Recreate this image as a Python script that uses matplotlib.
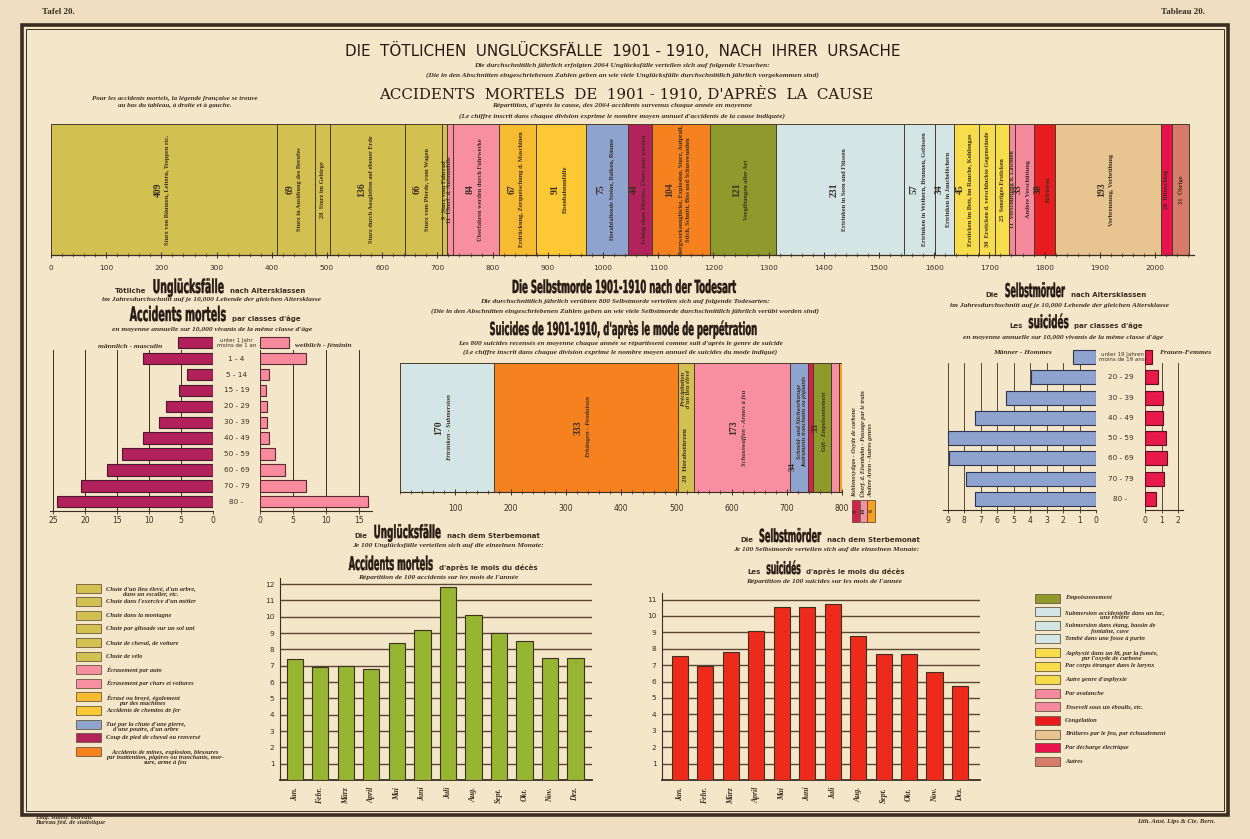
import matplotlib
matplotlib.use('Agg')
import matplotlib.pyplot as plt
from matplotlib.patches import Rectangle, PathPatch
from matplotlib.transforms import offset_copy, Affine2D
from matplotlib.textpath import TextPath
from matplotlib.font_manager import FontProperties
from matplotlib.ticker import MultipleLocator
import numpy as np

# ---------------- data ----------------
cause_values = [409, 69, 28, 136, 66, 9, 11, 84, 67, 91, 75, 44, 104,
                121, 231, 57, 34, 45, 30, 25, 11, 33, 38, 193, 20, 31]
cause_labels = [
    "Sturz von Bäumen, Leitern, Treppen etc.",
    "Sturz in Ausübung des Berufes",
    "Sturz im Gebirge",
    "Sturz durch Ausgleiten auf ebener Erde",
    "Sturz vom Pferde, vom Wagen",
    "Sturz vom Fahrrad",
    "Überf. d. Automobile",
    "Überfahren werden durch Fuhrwerke",
    "Erdrückung, Zerquetschung d. Maschinen",
    "Eisenbahnunfälle",
    "Herabfallende Steine, Balken, Bäume",
    "Schlag eines Pferdes, Überrannt werden",
    "Bergwerksunglücke, Explosion, Sturz, Aufprall,\nStich, Schnitt, Biss und Schusswunden",
    "Vergiftungen aller Art",
    "Ertrinken in Seen und Flüssen",
    "Ertrinken in Weihern, Brunnen, Gefässen",
    "Ertrinken in Jauchelöchern",
    "Ersticken im Bett, im Rauche, Kohlengas",
    "Ersticken d. verschluckte Gegenstände",
    "Sonstiges Ersticken",
    "Verschüttung d. Lawinen",
    "Andere Verschüttung",
    "Erfrieren",
    "Verbrennung, Verbrühung",
    "Blitzschlag",
    "Übrige",
]
FALL, PINK, MACH, RAIL, BLUE, CRIM, ORNG = '#d2c050', '#f78ea2', '#f6bb30', '#fcc934', '#8fa3cf', '#b3235b', '#f5821f'
POIS, LBLU, YELL, AVAL, RED, TAN, ELEC, OTHR = '#8e9a2c', '#d3e5e4', '#f7dd4c', '#f58a9e', '#e81c1f', '#e8c590', '#e8124c', '#d77a68'
cause_colors = [FALL, FALL, FALL, FALL, FALL, FALL, PINK, PINK, MACH, RAIL, BLUE, CRIM, ORNG,
                POIS, LBLU, LBLU, LBLU, YELL, YELL, YELL, AVAL, AVAL, RED, TAN, ELEC, OTHR]
cause_legend_fr = [
    "Chute d'un lieu élevé, d'un arbre,\ndans un escalier, etc.",
    "Chute dans l'exercice d'un métier",
    "Chute dans la montagne",
    "Chute par glissade sur un sol uni",
    "Chute de cheval, de voiture",
    "Chute de vélo",
    "Écrasement par auto",
    "Écrasement par chars et voitures",
    "Écrasé ou broyé, également\npar des machines",
    "Accidents de chemins de fer",
    "Tué par la chute d'une pierre,\nd'une poutre, d'un arbre",
    "Coup de pied de cheval ou renversé",
    "Accidents de mines, explosion, blessures\npar inattention, piqûres ou tranchants, mor-\nsure, arme à feu",
    "Empoisonnement",
    "Submersion accidentelle dans un lac,\nune rivière",
    "Submersion dans étang, bassin de\nfontaine, cuve",
    "Tombé dans une fosse à purin",
    "Asphyxié dans un lit, par la fumée,\npar l'oxyde de carbone",
    "Par corps étranger dans le larynx",
    "Autre genre d'asphyxie",
    "Par avalanche",
    "Enseveli sous un éboulis, etc.",
    "Congélation",
    "Brûlures par le feu, par échaudement",
    "Par décharge électrique",
    "Autres",
]

age_acc = ["unter 1 Jahr\nmoins de 1 an", "1 - 4", "5 - 14", "15 - 19", "20 - 29", "30 - 39",
           "40 - 49", "50 - 59", "60 - 69", "70 - 79", "80 -"]
acc_male = [5.4, 11.0, 4.1, 5.3, 7.3, 8.4, 11.0, 14.2, 16.6, 20.7, 24.4]
acc_female = [4.4, 6.9, 1.4, 0.9, 1.0, 1.1, 1.4, 2.3, 3.8, 7.0, 16.4]

suicide_values = [170, 333, 29, 173, 34, 8, 33, 14, 6]
suicide_labels = ["Ertränken - Submersion", "Erhängen - Pendaison", "Herabstürzen",
                  "Schusswaffen - Armes à feu",
                  "Schneid- und Stichwerkzeuge\nInstruments tranchants ou piquants",
                  "Kohlenoxydgas - Oxyde de carbone", "Gift - Empoisonnement",
                  "Überf. d. Eisenbahn - Passage par le train", "Andere Arten - Autres genres"]
suicide_colors = [LBLU, ORNG, FALL, PINK, BLUE, '#d8204c', POIS, PINK, '#f5a020']

age_sui = ["unter 19 Jahren\nmoins de 19 ans", "20 - 29", "30 - 39", "40 - 49", "50 - 59",
           "60 - 69", "70 - 79", "80 -"]
sui_male = [1.4, 3.95, 5.45, 7.33, 9.0, 8.9, 7.9, 7.33]
sui_female = [0.42, 0.8, 1.07, 1.07, 1.25, 1.33, 1.15, 0.67]

months = ["Jan.", "Febr.", "März", "April", "Mai", "Juni", "Juli", "Aug.", "Sept.", "Okt.", "Nov.", "Dez."]
acc_month = [7.4, 6.9, 7.0, 6.8, 8.4, 9.2, 11.8, 10.1, 9.0, 8.5, 7.45, 7.5]
sui_month = [7.55, 6.98, 7.78, 9.08, 10.57, 10.57, 10.75, 8.78, 7.7, 7.7, 6.6, 5.74]

# ---------------- styles ----------------
PAPER = '#f4e6c9'
INK = '#3a2e22'
HEAD = '#241a12'
EDGE = '#4a3c2a'
W, H = 1250, 839
SANSB = dict(family='DejaVu Sans', fontweight='bold', color=INK)
ITAL = dict(family='Liberation Serif', style='italic', fontweight='bold', color=INK)
SERB = dict(family='Liberation Serif', fontweight='bold', color=INK)
CFP = FontProperties(family='DejaVu Sans', weight='bold')

fig = plt.figure(figsize=(12.5, 8.39), dpi=100)
fig.patch.set_facecolor('#efdfc0')


def ax_px(x0, y0, x1, y1):
    a = fig.add_axes([x0 / W, 1 - y1 / H, (x1 - x0) / W, (y1 - y0) / H])
    a.set_facecolor('none')
    return a


def txt(x, y, s, **kw):
    return fig.text(x / W, 1 - y / H, s, **kw)


renderer = fig.canvas.get_renderer()


def cond_make(s, size, width):
    p = TextPath((0, 0), s, size=size, prop=CFP)
    ext = p.get_extents()
    sx = width / ext.x1
    return p, sx


def cond_place(p, sx, x, ybase):
    tr = Affine2D().scale(sx, 1.0).translate(x, H - ybase)
    fig.add_artist(PathPatch(p, transform=tr, facecolor=HEAD, edgecolor=HEAD, lw=0.3))


def ctext(xc, ybase, s, size, width):
    p, sx = cond_make(s, size, width)
    cond_place(p, sx, xc - width / 2, ybase)


def rich(xc, ybase, parts, gap=4):
    items = []
    for part in parts:
        if part[1] == 'c':
            s, _, size, width = part
            p, sx = cond_make(s, size, width)
            items.append(('c', (p, sx), width))
        else:
            s, _, fs = part
            t = fig.text(0, 1 - ybase / H, s, va='baseline', ha='left', fontsize=fs, **SANSB)
            w = t.get_window_extent(renderer=renderer).width
            items.append(('t', t, w))
    total = sum(i[2] for i in items) + gap * (len(items) - 1)
    x = xc - total / 2
    for kind, obj, w in items:
        if kind == 'c':
            cond_place(obj[0], obj[1], x, ybase)
        else:
            obj.set_x(x / W)
        x += w + gap


def frect(x0, y0, x1, y1, **kw):
    fig.add_artist(Rectangle((x0 / W, 1 - y1 / H), (x1 - x0) / W, (y1 - y0) / H,
                             transform=fig.transFigure, **kw))


# paper and frame
frect(22, 25, 1228, 815, facecolor=PAPER, edgecolor=INK, lw=2.6, zorder=-5)
frect(26, 29, 1224, 811, facecolor='none', edgecolor=INK, lw=0.7, zorder=-4)

txt(42, 12, "Tafel 20.", fontsize=6.5, va='center', **SERB)
txt(1205, 12, "Tableau 20.", fontsize=6.5, va='center', ha='right', **SERB)
txt(35, 820, "Eidg. statist. Bureau.\nBureau féd. de statistique", fontsize=4.8, va='center', linespacing=1.1, **ITAL)
txt(1215, 822, "Lith. Anst. Lips & Cie. Bern.", fontsize=4.8, va='center', ha='right', **ITAL)

# ---------------- titles ----------------
txt(623, 50, "DIE  TÖTLICHEN  UNGLÜCKSFÄLLE  1901 - 1910,  NACH  IHRER  URSACHE",
    fontsize=10.9, ha='center', va='center', family='DejaVu Sans', color=HEAD)
txt(622, 65, "Die durchschnittlich jährlich erfolgten 2064 Unglücksfälle verteilen sich auf folgende Ursachen:",
    fontsize=5.3, ha='center', va='center', **ITAL)
txt(622, 75, "(Die in den Abschnitten eingeschriebenen Zahlen geben an wie viele Unglücksfälle durchschnittlich jährlich vorgekommen sind)",
    fontsize=5.3, ha='center', va='center', **ITAL)
txt(626, 93, "ACCIDENTS  MORTELS  DE  1901 - 1910, D'APRÈS  LA  CAUSE",
    fontsize=10.8, ha='center', va='center', family='DejaVu Serif', color=HEAD)
txt(622, 106, "Répartition, d'après la cause, des 2064 accidents survenus chaque année en moyenne",
    fontsize=5.3, ha='center', va='center', **ITAL)
txt(622, 116, "(Le chiffre inscrit dans chaque division exprime le nombre moyen annuel d'accidents de la cause indiquée)",
    fontsize=5.3, ha='center', va='center', **ITAL)
txt(175, 102, "Pour les accidents mortels, la légende française se trouve\nau bas du tableau, à droite et à gauche.",
    fontsize=5.0, ha='center', va='center', linespacing=1.3, **ITAL)

# ---------------- top stacked bar ----------------
SC = 0.552
TOTX = 2070
ax = ax_px(51, 124, 51 + TOTX * SC, 255)
left = np.concatenate([[0], np.cumsum(cause_values)[:-1]])
ax.barh([0.5] * len(cause_values), cause_values, left=left, height=1.0,
        color=cause_colors, edgecolor=EDGE, linewidth=0.7)
ax.set_xlim(0, TOTX)
ax.set_ylim(0, 1)
for s in ['top', 'right', 'left']:
    ax.spines[s].set_visible(False)
ax.spines['bottom'].set_color(INK)
ax.spines['bottom'].set_linewidth(0.9)
ax.set_yticks([])
ax.set_xticks(np.arange(0, 2001, 100))
ax.xaxis.set_minor_locator(MultipleLocator(20))
ax.tick_params(axis='x', which='major', length=5, width=0.7, direction='inout', labelsize=5.3,
               pad=5, colors=INK)
ax.tick_params(axis='x', which='minor', length=2.5, width=0.5, direction='inout', colors=INK)
for l, v, lab in zip(left, cause_values, cause_labels):
    c = l + v / 2
    if v < 32:
        ax.text(c, 0.5, f"{v}  {lab}", rotation=90, ha='center', va='center',
                fontsize=4.6, clip_on=False, **SERB)
    else:
        nl = lab.count('\n')
        tn = offset_copy(ax.transData, fig=fig, x=-6 - 5 * nl, y=0, units='dots')
        tl = offset_copy(ax.transData, fig=fig, x=4, y=0, units='dots')
        ax.text(c, 0.5, f"{v}", rotation=90, ha='center', va='center', fontsize=7,
                transform=tn, **SERB)
        ax.text(c, 0.5, lab, rotation=90, ha='center', va='center', fontsize=4.6,
                transform=tl, multialignment='center', linespacing=1.2, **SERB)

# ---------------- left: accidents by age ----------------
rich(210, 293, [("Tötliche", 't', 5.0), ("Unglücksfälle", 'c', 19, 71),
                ("nach Altersklassen", 't', 5.0)], gap=6)
txt(212, 300, "im Jahresdurchschnitt auf je 10,000 Lebende der gleichen Altersklasse",
    fontsize=5.4, ha='center', va='center', **ITAL)
rich(215, 321, [("Accidents mortels", 'c', 20, 96), ("par classes d'âge", 't', 5.0)], gap=6)
txt(212, 329, "en moyenne annuelle sur 10,000 vivants de la même classe d'âge",
    fontsize=5.4, ha='center', va='center', **ITAL)
txt(130, 346, "männlich - masculin", fontsize=5.4, ha='center', va='center', **ITAL)
txt(323, 346, "weiblich - féminin", fontsize=5.4, ha='center', va='center', **ITAL)

y_acc = np.arange(len(age_acc))
axm = ax_px(53 - 0.5 * 6.4, 334, 213, 510.5)
axm.barh(y_acc, acc_male, height=0.72, color='#b2215b', edgecolor='#4a1a28', linewidth=0.8, zorder=3)
axm.set_xlim(25.5, 0)
axm.set_ylim(10.55, -0.55)
axf = ax_px(260, 334, 260 + 16.9 * 6.6, 510.5)
axf.barh(y_acc, acc_female, height=0.72, color='#f78a9d', edgecolor='#5a2a30', linewidth=0.8, zorder=3)
axf.set_xlim(0, 16.9)
axf.set_ylim(10.55, -0.55)
for a, ticks in [(axm, [0, 5, 10, 15, 20, 25]), (axf, [0, 5, 10, 15])]:
    for s in ['top', 'right', 'left']:
        a.spines[s].set_visible(False)
    a.spines['bottom'].set_color(INK)
    a.spines['bottom'].set_linewidth(0.8)
    a.set_yticks([])
    a.set_xticks(ticks)
    a.tick_params(axis='x', length=2.5, width=0.6, labelsize=5.5, pad=1.5, colors=INK)
    for t in ticks:
        a.plot([t, t], [10.55, 0.45], color=INK, lw=0.7, zorder=1)
for i, lab in enumerate(age_acc):
    yy = 334 + (i + 0.55) * 15.9
    txt(236.5, yy, lab, fontsize=5.2 if i else 4.0, ha='center', va='center',
        family='DejaVu Sans', color=INK, linespacing=0.95)

# ---------------- middle: suicides by method ----------------
ctext(624, 293, "Die Selbstmorde 1901-1910 nach der Todesart", 18, 224)
txt(625, 301, "Die durchschnittlich jährlich verübten 800 Selbstmorde verteilen sich auf folgende Todesarten:",
    fontsize=5.3, ha='center', va='center', **ITAL)
txt(625, 311, "(Die in den Abschnitten eingeschriebenen Zahlen geben an wie viele Selbstmorde durchschnittlich jährlich verübt worden sind)",
    fontsize=5.3, ha='center', va='center', **ITAL)
ctext(623, 335, "Suicides de 1901-1910, d'après le mode de perpétration", 18, 267)
txt(620, 343, "Les 800 suicides recensés en moyenne chaque année se répartissent comme suit d'après le genre de suicide",
    fontsize=5.3, ha='center', va='center', **ITAL)
txt(620, 352, "(Le chiffre inscrit dans chaque division exprime le nombre moyen annuel de suicides du mode indiqué)",
    fontsize=5.3, ha='center', va='center', **ITAL)

SS = 0.5525
axs = ax_px(400, 363, 400 + 800 * SS, 492)
sleft = np.concatenate([[0], np.cumsum(suicide_values)[:-1]])
axs.barh([0.5] * len(suicide_values), suicide_values, left=sleft, height=1.0,
         color=suicide_colors, edgecolor=EDGE, linewidth=0.7)
axs.set_xlim(0, 800)
axs.set_ylim(0, 1)
for s in ['top', 'right', 'left']:
    axs.spines[s].set_visible(False)
axs.spines['bottom'].set_color(INK)
axs.set_yticks([])
axs.set_xticks(np.arange(100, 801, 100))
axs.xaxis.set_minor_locator(MultipleLocator(20))
axs.tick_params(axis='x', which='major', length=5, width=0.7, direction='inout', labelsize=5.5, pad=6, colors=INK)
axs.tick_params(axis='x', which='minor', length=2.5, width=0.5, direction='inout', colors=INK)
for i, (l, v, lab) in enumerate(zip(sleft, suicide_values, suicide_labels)):
    c = l + v / 2
    if v >= 100:
        tn = offset_copy(axs.transData, fig=fig, x=-8, y=0, units='dots')
        tl = offset_copy(axs.transData, fig=fig, x=3, y=0, units='dots')
        axs.text(c, 0.5, f"{v}", rotation=90, ha='center', va='center', fontsize=7, transform=tn, **SERB)
        axs.text(c, 0.5, lab, rotation=90, ha='center', va='center', fontsize=4.8, transform=tl, **ITAL)
    elif v >= 25:
        if i == 2:
            axs.text(c, 0.08, f"{v}  {lab}", rotation=90, ha='center', va='bottom', fontsize=5.2, **SERB)
            axs.text(c, 0.95, "Précipitation\nd'un lieu élevé", rotation=90, ha='center', va='top',
                     fontsize=4.6, multialignment='center', **ITAL)
        else:
            tn = offset_copy(axs.transData, fig=fig, x=-6, y=0, units='dots')
            tl = offset_copy(axs.transData, fig=fig, x=3, y=0, units='dots')
            axs.text(c, 0.2 if '\n' in lab else 0.5, f"{v}", rotation=90, ha='center', va='center',
                     fontsize=6.5, transform=tn, **SERB)
            axs.text(c, 0.55, lab, rotation=90, ha='center', va='center', fontsize=4.4, transform=tl,
                     multialignment='center', **ITAL)
# small methods labelled at the right of the bar
small = [i for i, v in enumerate(suicide_values) if v < 25]
for k, i in enumerate(small):
    xx = 855 + 8 * k
    frect(xx - 3.5, 500, xx + 3.5, 522, facecolor=suicide_colors[i], edgecolor=EDGE, lw=0.5)
    txt(xx, 511, f"{suicide_values[i]}", rotation=90, ha='center', va='center', fontsize=4.4, **SERB)
    txt(xx, 497, suicide_labels[i], rotation=90, ha='center', va='bottom', fontsize=4.4, **ITAL)

# ---------------- right: suicides by age ----------------
rich(1066, 297, [("Die", 't', 5.0), ("Selbstmörder", 'c', 19, 60),
                 ("nach Altersklassen", 't', 5.0)], gap=6)
txt(1060, 305, "im Jahresdurchschnitt auf je 10,000 Lebende der gleichen Altersklasse",
    fontsize=5.4, ha='center', va='center', **ITAL)
rich(1076, 328, [("Les", 't', 5.0), ("suicidés", 'c', 18, 40),
                 ("par classes d'âge", 't', 5.0)], gap=6)
txt(1063, 338, "en moyenne annuelle sur 10,000 vivants de la même classe d'âge",
    fontsize=5.4, ha='center', va='center', **ITAL)
txt(1022, 353, "Männer - Hommes", fontsize=5.4, ha='center', va='center', **ITAL)
txt(1185, 353, "Frauen-Femmes", fontsize=5.4, ha='center', va='center', **ITAL)

y_sui = np.arange(len(age_sui))
sp = 16.5
axm2 = ax_px(1096 - 9.25 * sp, 346, 1096, 510)
axm2.barh(y_sui, sui_male, height=0.68, color='#8fa3cf', edgecolor='#2f3550', linewidth=0.8, zorder=3)
axm2.set_xlim(9.25, 0)
axm2.set_ylim(7.55, -0.55)
axf2 = ax_px(1145, 346, 1145 + 2.3 * sp, 510)
axf2.barh(y_sui, sui_female, height=0.68, color='#e8194b', edgecolor='#5a1020', linewidth=0.8, zorder=3)
axf2.set_xlim(0, 2.3)
axf2.set_ylim(7.55, -0.55)
for a, ticks in [(axm2, list(range(10))), (axf2, [0, 1, 2])]:
    for s in ['top', 'right', 'left']:
        a.spines[s].set_visible(False)
    a.spines['bottom'].set_color(INK)
    a.spines['bottom'].set_linewidth(0.8)
    a.set_yticks([])
    a.set_xticks(ticks)
    a.tick_params(axis='x', length=2.5, width=0.6, labelsize=5.5, pad=1.5, colors=INK)
    for t in ticks:
        a.plot([t, t], [7.55, 0.3], color=INK, lw=0.6, zorder=1)
for i, lab in enumerate(age_sui):
    yy = 346 + (i + 0.55) * (164 / 8.1)
    txt(1120.5 if i else 1122, yy, lab, fontsize=5.2 if i else 4.0, ha='center', va='center',
        family='DejaVu Sans', color=INK, linespacing=0.95)


# ---------------- bottom: month charts ----------------
def month_chart(x0, x1, ytop, ymax, xl, vals, color):
    a = ax_px(x0, ytop, x1, 780)
    xs = np.arange(len(vals))
    a.bar(xs, vals, width=0.64, color=color, edgecolor='#3e3020', linewidth=0.8, zorder=3)
    a.set_xlim(*xl)
    a.set_ylim(0, ymax)
    for t in range(1, int(ymax) + 1):
        a.axhline(t, color='#5a4632', lw=1.0, zorder=1)
    for s in ['top', 'right']:
        a.spines[s].set_visible(False)
    a.spines['left'].set_color(INK)
    a.spines['bottom'].set_color(INK)
    a.spines['bottom'].set_linewidth(1.3)
    a.set_yticks(range(1, int(ymax) + 1))
    a.tick_params(axis='y', length=0, labelsize=5.3, pad=4, colors=INK)
    a.set_xticks(xs)
    a.set_xticklabels(months, rotation=90, fontsize=5.6, family='Liberation Serif',
                      style='italic', fontweight='bold', color=INK)
    a.tick_params(axis='x', length=0, pad=5)
    return a


rich(447, 538, [("Die", 't', 5.0), ("Unglücksfälle", 'c', 18, 67),
                ("nach dem Sterbemonat", 't', 5.0)], gap=6)
txt(448, 546, "Je 100 Unglücksfälle verteilen sich auf die einzelnen Monate:", fontsize=5.4,
    ha='center', va='center', **ITAL)
rich(443, 570, [("Accidents mortels", 'c', 19, 84),
                ("d'après le mois du décès", 't', 5.0)], gap=6)
txt(438, 578, "Répartition de 100 accidents sur les mois de l'année", fontsize=5.4,
    ha='center', va='center', **ITAL)
month_chart(280, 592, 578, 12.37, (-0.58, 11.65), acc_month, '#96b531')

rich(830, 542, [("Die", 't', 5.0), ("Selbstmörder", 'c', 18, 62),
                ("nach dem Sterbemonat", 't', 5.0)], gap=6)
txt(826, 549.5, "Je 100 Selbstmorde verteilen sich auf die einzelnen Monate:", fontsize=5.4,
    ha='center', va='center', **ITAL)
rich(826, 574, [("Les", 't', 5.0), ("suicidés", 'c', 17, 34),
                ("d'après le mois du décès", 't', 5.0)], gap=6)
txt(824, 581, "Répartition de 100 suicides sur les mois de l'année", fontsize=5.4,
    ha='center', va='center', **ITAL)
month_chart(662, 980, 593, 11.4, (-0.7, 11.78), sui_month, '#ee2b1b')


# ---------------- legends ----------------
def legend(x0, y0, idx):
    for k, i in enumerate(idx):
        yy = y0 + k * 13.6
        frect(x0, yy - 4.5, x0 + 25, yy + 4.5, facecolor=cause_colors[i], edgecolor='#6a5a40', lw=0.6)
        lab = cause_legend_fr[i]
        nl = lab.count('\n')
        txt(x0 + 30, yy + (0 if nl == 0 else 3.2 * nl), lab, fontsize=4.7, ha='left', va='center',
            multialignment='center', linespacing=1.05, **ITAL)


legend(76, 588, range(0, 13))
legend(1035, 598, range(13, 26))

fig.savefig('out.png', dpi=100, facecolor=fig.get_facecolor())
